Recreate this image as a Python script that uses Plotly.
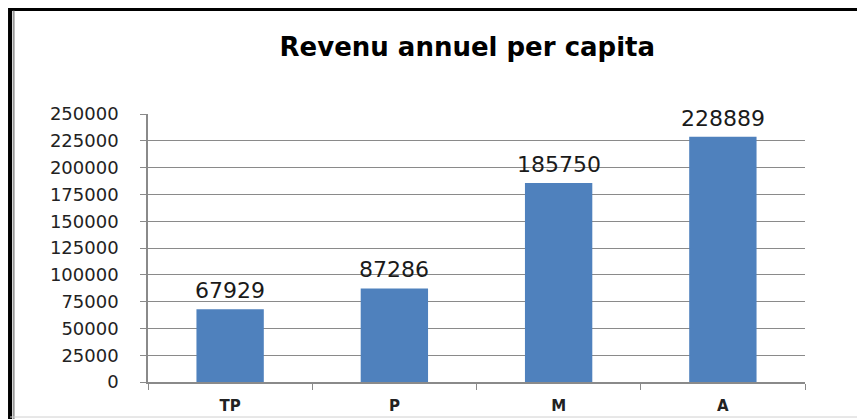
import plotly.graph_objects as go

categories = ["TP", "P", "M", "A"]
revenu = [67929, 87286, 185750, 228889]
y_ticks = [0, 25000, 50000, 75000, 100000, 125000, 150000, 175000, 200000, 225000, 250000]

BAR_COLOR = "#4F81BD"
GRID = "#8a8a8a"
FONT = "DejaVu Sans, Arial"

fig = go.Figure()
fig.add_trace(go.Bar(x=categories, y=revenu, marker=dict(color=BAR_COLOR, line=dict(width=0)),
                     width=0.41, showlegend=False))

# value labels above bars
for c, v in zip(categories, revenu):
    fig.add_annotation(x=c, y=v, text=str(v), showarrow=False, yanchor="bottom", yshift=4,
                       font=dict(family=FONT, size=22, color="#1a1a1a"))

# chart border (left/top dark, bottom light)
fig.add_shape(type="line", xref="paper", yref="paper", x0=-0.21, x1=1.2, y0=1.392, y1=1.392,
              line=dict(color="black", width=4))
fig.add_shape(type="line", xref="paper", yref="paper", x0=-0.21, x1=-0.21, y0=1.40, y1=-0.14,
              line=dict(color="black", width=4))
fig.add_shape(type="line", xref="paper", yref="paper", x0=-0.2045, x1=-0.2045, y0=1.385, y1=-0.14,
              line=dict(color="#999999", width=2))
fig.add_shape(type="line", xref="paper", yref="paper", x0=-0.21, x1=1.2, y0=-0.1306, y1=-0.1306,
              line=dict(color="#d0d0d0", width=1))

fig.update_layout(
    width=865, height=419,
    margin=dict(l=140, r=68, t=106, b=45),
    plot_bgcolor="white", paper_bgcolor="white",
    title=dict(text="<b>Revenu annuel per capita</b>", x=0.531, xanchor="center",
               y=1 - 39 / 419, yanchor="middle",
               font=dict(family=FONT, size=26, color="black")),
    bargap=0.59,
)
fig.update_xaxes(
    showline=True, linecolor=GRID, linewidth=1.5, mirror=False,
    ticks="outside", ticklen=6, tickcolor=GRID, tickson="boundaries",
    tickfont=dict(family=FONT, size=15, color="#222222"),
    tickprefix="<b>", ticksuffix="</b>", ticklabelstandoff=9,
    showgrid=False,
)
fig.update_yaxes(
    range=[0, 250000], tickvals=y_ticks, ticktext=[str(t) for t in y_ticks],
    showline=True, linecolor=GRID, linewidth=1.5,
    ticks="outside", ticklen=6, tickcolor=GRID,
    showgrid=True, gridcolor=GRID, gridwidth=1.2,
    tickfont=dict(family=FONT, size=18, color="#222222"),
    ticklabelstandoff=18, zeroline=False,
)

fig.write_html("out.html")
